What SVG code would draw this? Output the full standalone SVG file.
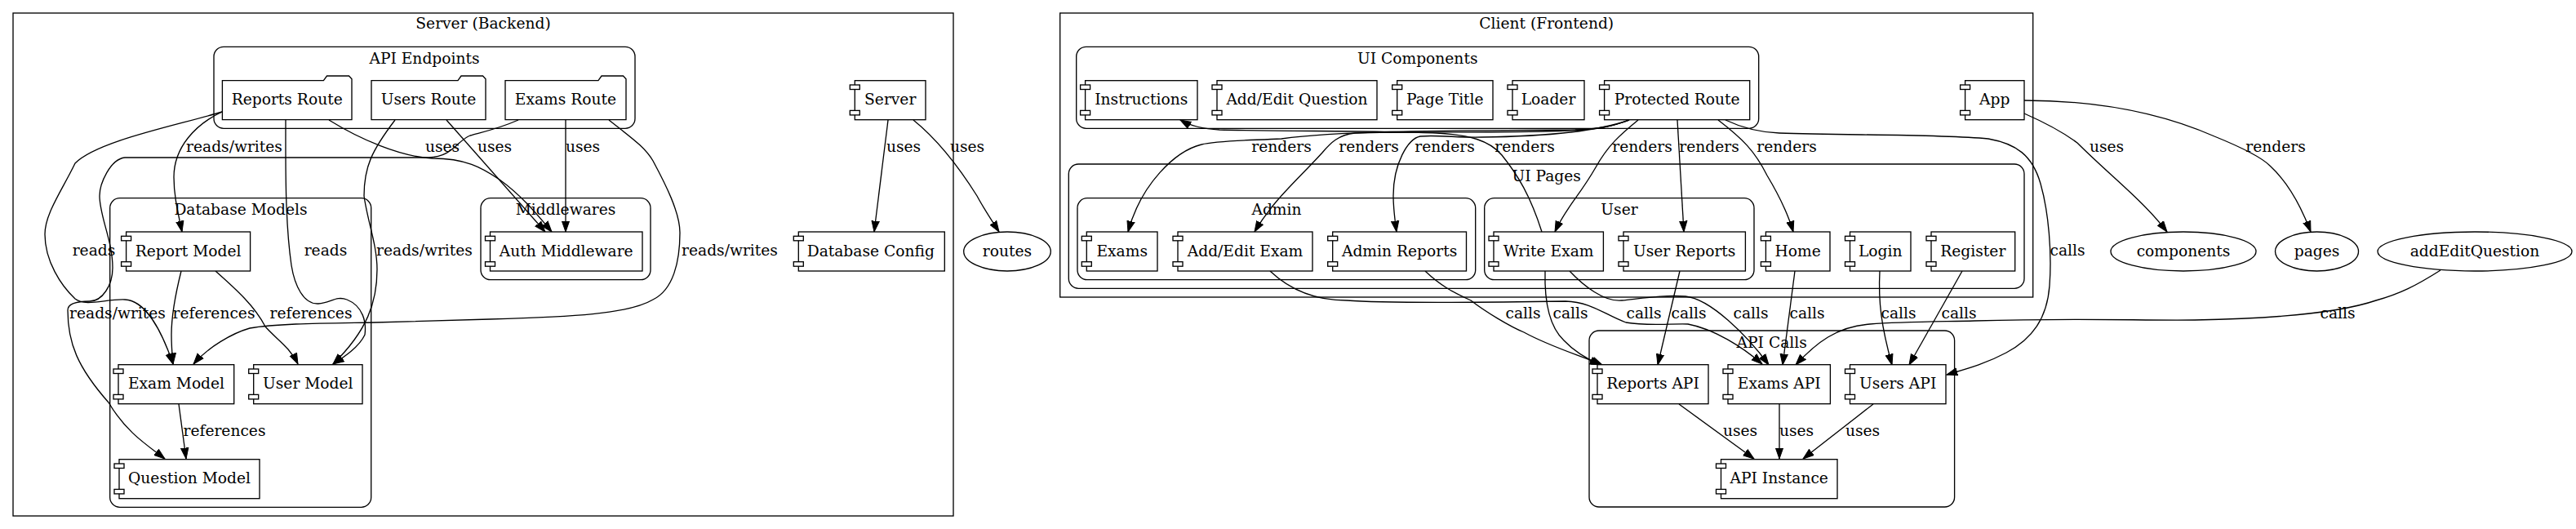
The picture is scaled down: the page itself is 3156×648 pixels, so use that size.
<svg xmlns="http://www.w3.org/2000/svg" width="3156" height="648" viewBox="0 0 3156 648">
<style>
text{font-family:"DejaVu Serif","Liberation Serif",serif;font-size:18.67px;fill:#000;text-anchor:middle}
rect,path,ellipse{stroke:#000;stroke-width:1.33;fill:none}
.n,.t{fill:#fff}
.e path{marker-end:url(#a)}
</style>
<defs><marker id="a" markerUnits="userSpaceOnUse" markerWidth="15" markerHeight="12" refX="13.33" refY="6" orient="auto"><path d="M0,1.33L13.33,6L0,10.67z" style="fill:#000;stroke:#000;stroke-width:1"/></marker></defs>
<rect width="3156" height="648" style="fill:#fff;stroke:none"/>
<g id="clusters">
<g id="server-backend"><rect x="16" y="16" width="1152" height="616"/><text x="592" y="35">Server (Backend)</text></g>
<g id="api-endpoints"><rect x="262" y="57.3" width="516" height="100" rx="12"/><text x="520" y="78">API Endpoints</text></g>
<g id="middlewares"><rect x="589" y="242.7" width="208" height="100" rx="12"/><text x="693" y="263">Middlewares</text></g>
<g id="database-models"><rect x="134.7" y="242.7" width="320" height="378.6" rx="12"/><text x="295" y="263">Database Models</text></g>
<g id="client-frontend"><rect x="1298.7" y="16" width="1192" height="348"/><text x="1894.7" y="35">Client (Frontend)</text></g>
<g id="ui-components"><rect x="1318.7" y="57.3" width="836" height="100" rx="12"/><text x="1736.7" y="78">UI Components</text></g>
<g id="ui-pages"><rect x="1309.3" y="201" width="1170.7" height="152.3" rx="12"/><text x="1894.7" y="222">UI Pages</text></g>
<g id="admin"><rect x="1320" y="242.7" width="487.7" height="100" rx="12"/><text x="1564" y="263">Admin</text></g>
<g id="user"><rect x="1818.7" y="242.7" width="330.3" height="100" rx="12"/><text x="1984" y="263">User</text></g>
<g id="api-calls"><rect x="1947" y="405" width="447.6" height="216" rx="12"/><text x="2170.7" y="426">API Calls</text></g>
</g>
<g id="connectors" class="e">
<path d="M272,137C220,153 120,172 92,200C75,235 55,262 55,287C55,320 75,350 92,366C105,376 130,366 153,367C178,368 198,405 212,446"/>
<path d="M272,137C240,152 213,180 213,217C213,240 218,260 223,284"/>
<path d="M350,147C350,200 349,270 357,325C361,350 372,373 390,372C405,371 412,362 425,367C445,375 449,395 447,410C440,425 422,437 408,446"/>
<path d="M403,147C440,170 490,192 530,194C570,194 590,205 612,220C640,240 660,265 676,284"/>
<path d="M484,147C455,185 446,205 446,240C450,270 462,300 462,330C462,370 450,405 408,446"/>
<path d="M547,147L668,284"/>
<path d="M693,147L693,284"/>
<path d="M635,147C610,158 590,162 576,166C560,172 555,192 525,193L153,193C135,195 122,225 122,240C122,265 138,295 138,328C138,350 125,369 110,369C100,369 83,370 83,380C83,420 95,450 133,493C155,530 180,545 202,562"/>
<path d="M746,147C775,170 790,180 800,197C815,225 833,260 833,285C833,320 825,355 800,367C770,385 700,388 600,391L459,395C400,396 340,396 306,402C285,408 255,425 237,446"/>
<path d="M222,332C215,360 210,385 210,410C210,425 211,435 212,446"/>
<path d="M264,332C290,355 312,375 325,400C338,415 355,425 365,446"/>
<path d="M219,495L228,562"/>
<path d="M1088,147L1071,284"/>
<path d="M1119,147C1150,172 1175,205 1197,240C1205,255 1215,270 1224,284"/>
<path d="M1889,284C1875,240 1860,215 1840,190C1825,172 1800,165 1760,163C1700,160 1560,161 1494,159C1475,158 1460,155 1446,147"/>
<path d="M1996,147C1975,155 1960,158 1930,159C1800,160 1650,159 1570,170C1530,172 1490,172 1472,177C1440,185 1398,225 1382,284"/>
<path d="M1996,147C1975,155 1960,158 1920,160C1850,163 1730,161 1660,163C1640,165 1630,175 1620,187C1590,220 1560,245 1537,284"/>
<path d="M1996,147C1960,160 1900,167 1815,168C1790,169 1760,165 1740,167C1725,170 1707,200 1707,240C1707,255 1709,270 1711,284"/>
<path d="M2007,147C1985,165 1970,178 1955,205C1935,240 1918,255 1905,284"/>
<path d="M2055,147L2063,284"/>
<path d="M2105,147C2135,170 2150,185 2165,215C2180,240 2190,260 2197,284"/>
<path d="M2114,147C2135,157 2155,162 2180,163C2260,166 2370,164 2436,170C2470,176 2490,190 2500,225C2510,260 2514,310 2511,350C2508,390 2490,415 2458,432C2430,447 2405,453 2385,459"/>
<path d="M2480,139C2505,150 2525,160 2545,175C2585,215 2625,245 2655,284"/>
<path d="M2480,123C2560,123 2640,135 2713,167C2745,180 2770,192 2781,203C2805,225 2820,255 2831,284"/>
<path d="M2990,331C2960,350 2940,360 2911,368C2870,382 2800,390 2689,392C2620,393 2560,389 2419,393C2380,394 2330,394 2291,397C2250,400 2225,420 2200,447"/>
<path d="M1746,332C1765,350 1780,358 1802,368C1820,382 1850,400 1867,407C1900,425 1935,435 1963,447"/>
<path d="M1556,332C1575,350 1605,368 1650,368C1700,372 1850,370 1918,369C1950,370 1965,385 1992,395C2020,400 2050,396 2068,397C2100,403 2135,425 2159,446"/>
<path d="M1893,332C1892,370 1898,400 1916,417C1930,432 1945,440 1961,447"/>
<path d="M1923,332C1940,350 1965,370 1987,368C2015,365 2040,361 2065,363C2095,366 2140,410 2167,447"/>
<path d="M2058,332L2031,447"/>
<path d="M2199,332L2184,447"/>
<path d="M2303,332C2301,370 2305,400 2318,447"/>
<path d="M2404,332L2339,447"/>
<path d="M2057,495L2149,562"/>
<path d="M2180,495L2180,562"/>
<path d="M2295,495L2209,562"/>
</g>
<g id="edge-labels">
<text x="287" y="186">reads/writes</text><text x="542" y="186">uses</text><text x="606" y="186">uses</text><text x="714" y="186">uses</text>
<text x="115" y="313">reads</text><text x="399" y="313">reads</text><text x="520" y="313">reads/writes</text><text x="894" y="313">reads/writes</text>
<text x="1107" y="186">uses</text><text x="1185" y="186">uses</text>
<text x="144" y="390">reads/writes</text><text x="262" y="390">references</text><text x="381" y="390">references</text><text x="275" y="534">references</text>
<text x="1570" y="186">renders</text><text x="1677" y="186">renders</text><text x="1770" y="186">renders</text><text x="1868" y="186">renders</text><text x="2012" y="186">renders</text><text x="2094" y="186">renders</text><text x="2189" y="186">renders</text>
<text x="2533" y="313">calls</text><text x="2581" y="186">uses</text><text x="2788" y="186">renders</text><text x="2864" y="390">calls</text>
<text x="1866" y="390">calls</text><text x="1924" y="390">calls</text><text x="2014" y="390">calls</text><text x="2069" y="390">calls</text><text x="2145" y="390">calls</text><text x="2214" y="390">calls</text><text x="2326" y="390">calls</text><text x="2400" y="390">calls</text>
<text x="2132" y="534">uses</text><text x="2201" y="534">uses</text><text x="2282" y="534">uses</text>
</g>
<g id="reports-route"><path class="n" d="M272.4,98.7H396.4L400.5,93H427.5L431,96.7V146.7H272.4z"/><text x="351.7" y="128">Reports Route</text></g>
<g id="users-route"><path class="n" d="M455,98.7H561L565,93H591.5L595,96.7V146.7H455z"/><text x="525" y="128">Users Route</text></g>
<g id="exams-route"><path class="n" d="M619,98.7H733L737,93H763.5L767,96.7V146.7H619z"/><text x="693" y="128">Exams Route</text></g>
<g id="auth-middleware"><rect class="n" x="600.5" y="284" width="186.5" height="48"/><rect class="t" x="594.5" y="289.3" width="12" height="5.5"/><rect class="t" x="594.5" y="320.7" width="12" height="5.5"/><text x="693.7" y="313.5">Auth Middleware</text></g>
<g id="report-model"><rect class="n" x="154.6" y="284" width="152" height="48"/><rect class="t" x="148.6" y="289.3" width="12" height="5.5"/><rect class="t" x="148.6" y="320.7" width="12" height="5.5"/><text x="230.6" y="313.5">Report Model</text></g>
<g id="exam-model"><rect class="n" x="145" y="446.7" width="141.7" height="48"/><rect class="t" x="139" y="452" width="12" height="5.5"/><rect class="t" x="139" y="483.4" width="12" height="5.5"/><text x="216" y="476.2">Exam Model</text></g>
<g id="user-model"><rect class="n" x="310.7" y="446.7" width="133.3" height="48"/><rect class="t" x="304.7" y="452" width="12" height="5.5"/><rect class="t" x="304.7" y="483.4" width="12" height="5.5"/><text x="377.3" y="476.2">User Model</text></g>
<g id="question-model"><rect class="n" x="146" y="562.7" width="172" height="48"/><rect class="t" x="140" y="568" width="12" height="5.5"/><rect class="t" x="140" y="599.4" width="12" height="5.5"/><text x="232" y="592.2">Question Model</text></g>
<g id="server"><rect class="n" x="1047.3" y="98.7" width="86.7" height="48"/><rect class="t" x="1041.3" y="104" width="12" height="5.5"/><rect class="t" x="1041.3" y="135.4" width="12" height="5.5"/><text x="1090.7" y="128.2">Server</text></g>
<g id="database-config"><rect class="n" x="978.3" y="284" width="179" height="48"/><rect class="t" x="972.3" y="289.3" width="12" height="5.5"/><rect class="t" x="972.3" y="320.7" width="12" height="5.5"/><text x="1066.8" y="313.5">Database Config</text></g>
<g id="routes"><ellipse class="n" cx="1234" cy="308" rx="53.3" ry="24"/><text x="1234" y="313.5">routes</text></g>
<g id="instructions"><rect class="n" x="1329.6" y="98.7" width="137.4" height="48"/><rect class="t" x="1323.6" y="104" width="12" height="5.5"/><rect class="t" x="1323.6" y="135.4" width="12" height="5.5"/><text x="1398.3" y="128.2">Instructions</text></g>
<g id="add-edit-question"><rect class="n" x="1491" y="98.7" width="196" height="48"/><rect class="t" x="1485" y="104" width="12" height="5.5"/><rect class="t" x="1485" y="135.4" width="12" height="5.5"/><text x="1589" y="128.2">Add/Edit Question</text></g>
<g id="page-title"><rect class="n" x="1711.7" y="98.7" width="117.3" height="48"/><rect class="t" x="1705.7" y="104" width="12" height="5.5"/><rect class="t" x="1705.7" y="135.4" width="12" height="5.5"/><text x="1770.3" y="128.2">Page Title</text></g>
<g id="loader"><rect class="n" x="1853" y="98.7" width="88" height="48"/><rect class="t" x="1847" y="104" width="12" height="5.5"/><rect class="t" x="1847" y="135.4" width="12" height="5.5"/><text x="1897" y="128.2">Loader</text></g>
<g id="protected-route"><rect class="n" x="1965.6" y="98.7" width="178.1" height="48"/><rect class="t" x="1959.6" y="104" width="12" height="5.5"/><rect class="t" x="1959.6" y="135.4" width="12" height="5.5"/><text x="2054.7" y="128.2">Protected Route</text></g>
<g id="app"><rect class="n" x="2407.6" y="98.7" width="72.4" height="48"/><rect class="t" x="2401.6" y="104" width="12" height="5.5"/><rect class="t" x="2401.6" y="135.4" width="12" height="5.5"/><text x="2443.8" y="128.2">App</text></g>
<g id="exams"><rect class="n" x="1331.3" y="284" width="86.7" height="48"/><rect class="t" x="1325.3" y="289.3" width="12" height="5.5"/><rect class="t" x="1325.3" y="320.7" width="12" height="5.5"/><text x="1374.7" y="313.5">Exams</text></g>
<g id="add-edit-exam"><rect class="n" x="1443" y="284" width="165" height="48"/><rect class="t" x="1437" y="289.3" width="12" height="5.5"/><rect class="t" x="1437" y="320.7" width="12" height="5.5"/><text x="1525.5" y="313.5">Add/Edit Exam</text></g>
<g id="admin-reports"><rect class="n" x="1632.7" y="284" width="163.8" height="48"/><rect class="t" x="1626.7" y="289.3" width="12" height="5.5"/><rect class="t" x="1626.7" y="320.7" width="12" height="5.5"/><text x="1714.6" y="313.5">Admin Reports</text></g>
<g id="write-exam"><rect class="n" x="1830" y="284" width="134.4" height="48"/><rect class="t" x="1824" y="289.3" width="12" height="5.5"/><rect class="t" x="1824" y="320.7" width="12" height="5.5"/><text x="1897.2" y="313.5">Write Exam</text></g>
<g id="user-reports"><rect class="n" x="1989" y="284" width="149.4" height="48"/><rect class="t" x="1983" y="289.3" width="12" height="5.5"/><rect class="t" x="1983" y="320.7" width="12" height="5.5"/><text x="2063.7" y="313.5">User Reports</text></g>
<g id="home"><rect class="n" x="2163.4" y="284" width="78.6" height="48"/><rect class="t" x="2157.4" y="289.3" width="12" height="5.5"/><rect class="t" x="2157.4" y="320.7" width="12" height="5.5"/><text x="2202.7" y="313.5">Home</text></g>
<g id="login"><rect class="n" x="2266.5" y="284" width="74.5" height="48"/><rect class="t" x="2260.5" y="289.3" width="12" height="5.5"/><rect class="t" x="2260.5" y="320.7" width="12" height="5.5"/><text x="2303.7" y="313.5">Login</text></g>
<g id="register"><rect class="n" x="2366" y="284" width="102.7" height="48"/><rect class="t" x="2360" y="289.3" width="12" height="5.5"/><rect class="t" x="2360" y="320.7" width="12" height="5.5"/><text x="2417.3" y="313.5">Register</text></g>
<g id="components"><ellipse class="n" cx="2675" cy="308" rx="89" ry="24"/><text x="2675" y="313.5">components</text></g>
<g id="pages"><ellipse class="n" cx="2838.5" cy="308" rx="51" ry="24"/><text x="2838.5" y="313.5">pages</text></g>
<g id="addEditQuestion"><ellipse class="n" cx="3032" cy="308" rx="119" ry="24"/><text x="3032" y="313.5">addEditQuestion</text></g>
<g id="reports-api"><rect class="n" x="1957" y="446.7" width="136" height="48"/><rect class="t" x="1951" y="452" width="12" height="5.5"/><rect class="t" x="1951" y="483.4" width="12" height="5.5"/><text x="2025" y="476.2">Reports API</text></g>
<g id="exams-api"><rect class="n" x="2117" y="446.7" width="125.4" height="48"/><rect class="t" x="2111" y="452" width="12" height="5.5"/><rect class="t" x="2111" y="483.4" width="12" height="5.5"/><text x="2179.7" y="476.2">Exams API</text></g>
<g id="users-api"><rect class="n" x="2266.5" y="446.7" width="117.5" height="48"/><rect class="t" x="2260.5" y="452" width="12" height="5.5"/><rect class="t" x="2260.5" y="483.4" width="12" height="5.5"/><text x="2325.2" y="476.2">Users API</text></g>
<g id="api-instance"><rect class="n" x="2108.5" y="562.7" width="142.5" height="48"/><rect class="t" x="2102.5" y="568" width="12" height="5.5"/><rect class="t" x="2102.5" y="599.4" width="12" height="5.5"/><text x="2179.7" y="592.2">API Instance</text></g>
</svg>
